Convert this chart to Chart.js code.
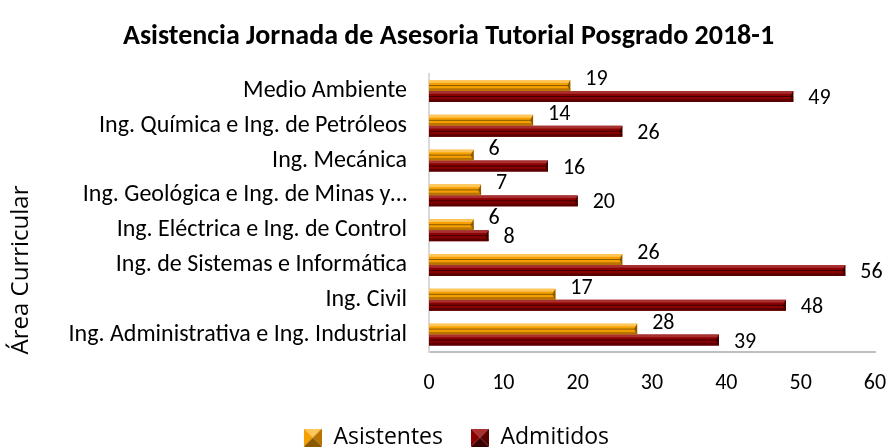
<!DOCTYPE html>
<html>
<head>
<meta charset="utf-8">
<script src="https://cdn.jsdelivr.net/npm/chart.js@4.4.0/dist/chart.umd.min.js"></script>
<style>
  html, body { margin: 0; padding: 0; background: #fff; }
  #wrap { width: 891px; height: 448px; }
</style>
</head>
<body>
<div id="wrap"><canvas id="grafico" width="891" height="448"></canvas></div>
<script>
// datos
const areas = [
    "Medio Ambiente",
    "Ing. Química e Ing. de Petróleos",
    "Ing. Mecánica",
    "Ing. Geológica e Ing. de Minas y…",
    "Ing. Eléctrica e Ing. de Control",
    "Ing. de Sistemas e Informática",
    "Ing. Civil",
    "Ing. Administrativa e Ing. Industrial"
];
const asistentes = [19, 14, 6, 7, 6, 26, 17, 28];
const admitidos = [49, 26, 16, 20, 8, 56, 48, 39];
const xTicks = [0, 10, 20, 30, 40, 50, 60];

const fuente = "Carlito, Lato, 'Open Sans', sans-serif";
const fuente2 = "'Open Sans', 'Noto Sans', sans-serif";
const naranja = { base: "#F5A000", luz: "#FFC65A", sombra: "#B87400", linea: "#8A5A00" };
const rojo = { base: "#8B0000", luz: "#A83030", sombra: "#5A0000", linea: "#3A0000" };

// cuadrito biselado para la leyenda (con margen transparente a la izquierda)
function iconoLeyenda(c) {
    const s = 18, m = 16;
    const cv = document.createElement("canvas");
    cv.width = s + m; cv.height = s;
    const g = cv.getContext("2d");
    const tri = (pts, col) => {
        g.fillStyle = col;
        g.beginPath();
        g.moveTo(m + pts[0], pts[1]);
        g.lineTo(m + pts[2], pts[3]);
        g.lineTo(m + pts[4], pts[5]);
        g.closePath();
        g.fill();
    };
    tri([0, 0, s, 0, s / 2, s / 2], c.luz);
    tri([0, 0, 0, s, s / 2, s / 2], c.base);
    tri([s, 0, s, s, s / 2, s / 2], c.sombra);
    tri([0, s, s, s, s / 2, s / 2], c.linea);
    return cv;
}

// bisel de las barras + etiquetas de valor + titulo del eje
const biselPlugin = {
    id: "bisel",
    afterDatasetsDraw(chart) {
        const ctx = chart.ctx;
        chart.data.datasets.forEach((ds, i) => {
            const meta = chart.getDatasetMeta(i);
            const c = i == 0 ? naranja : rojo;
            meta.data.forEach((bar, j) => {
                const x0 = bar.base, x1 = bar.x;
                const top = bar.y - bar.height / 2, h = bar.height;
                ctx.save();
                ctx.fillStyle = c.luz;
                ctx.fillRect(x0, top, x1 - x0, h * 0.25);
                ctx.fillStyle = c.sombra;
                ctx.fillRect(x0, top + h * 0.75, x1 - x0, h * 0.25);
                ctx.strokeStyle = c.linea;
                ctx.lineWidth = 1;
                ctx.beginPath();
                ctx.moveTo(x0, top + h * 0.5);
                ctx.lineTo(x1, top + h * 0.5);
                ctx.stroke();
                // punta oscura
                ctx.fillStyle = c.linea;
                ctx.beginPath();
                ctx.moveTo(x1, top);
                ctx.lineTo(x1, top + h);
                ctx.lineTo(x1 - 3, top + h * 0.5);
                ctx.closePath();
                ctx.fill();
                // etiqueta
                ctx.fillStyle = "#000";
                ctx.font = "22px " + fuente;
                ctx.textAlign = "left";
                ctx.textBaseline = "middle";
                const dy = i == 0 ? -6 : 2;
                ctx.fillText(ds.data[j], x1 + 15, bar.y + dy);
                ctx.restore();
            });
        });
        // titulo del eje vertical
        ctx.save();
        ctx.translate(21, 270);
        ctx.rotate(-Math.PI / 2);
        ctx.fillStyle = "#000";
        ctx.font = "24px " + fuente2;
        ctx.textAlign = "center";
        ctx.textBaseline = "middle";
        ctx.fillText("Área Curricular", 0, 0);
        ctx.restore();
    }
};

const iconos = [iconoLeyenda(naranja), iconoLeyenda(rojo)];

new Chart(document.getElementById("grafico"), {
    type: "bar",
    data: {
        labels: areas,
        datasets: [
            {
                label: "Asistentes",
                data: asistentes,
                backgroundColor: naranja.base,
                borderWidth: 0,
                barPercentage: 1,
                categoryPercentage: 0.63
            },
            {
                label: "Admitidos",
                data: admitidos,
                backgroundColor: rojo.base,
                borderWidth: 0,
                barPercentage: 1,
                categoryPercentage: 0.63
            }
        ]
    },
    options: {
        indexAxis: "y",
        responsive: false,
        animation: false,
        layout: { padding: { left: 6, right: 0, top: 0, bottom: -11 } },
        plugins: {
            title: {
                display: true,
                text: "Asistencia Jornada de Asesoria Tutorial Posgrado 2018-1",
                color: "#000",
                font: { family: fuente, size: 28, weight: "bold" },
                padding: { top: 20, bottom: 20 }
            },
            legend: {
                position: "bottom",
                labels: {
                    color: "#000",
                    font: { family: fuente2, size: 23 },
                    boxWidth: 18,
                    boxHeight: 18,
                    padding: 12,
                    usePointStyle: true,
                    pointStyleWidth: 34,
                    generateLabels(chart) {
                        return chart.data.datasets.map((ds, i) => ({
                            text: ds.label,
                            fontColor: "#000",
                            pointStyle: iconos[i],
                            lineWidth: 0,
                            hidden: false,
                            datasetIndex: i
                        }));
                    }
                }
            },
            tooltip: { enabled: false }
        },
        scales: {
            x: {
                min: 0,
                max: 60,
                afterBuildTicks(scale) {
                    scale.ticks = xTicks.map(v => ({ value: v }));
                },
                grid: { display: false, drawTicks: false },
                border: { display: true, color: "#BFBFBF", width: 2 },
                ticks: { color: "#000", font: { family: fuente, size: 22 }, padding: 18 },
                afterFit(scale) {
                    scale.height = 62;
                    scale.paddingRight = 16;
                }
            },
            y: {
                grid: { display: false, drawTicks: false },
                border: { display: true, color: "#D9D9D9", width: 2 },
                ticks: { color: "#000", font: { family: fuente, size: 24 }, padding: 22, autoSkip: false },
                afterFit(scale) { scale.width = 423; }
            }
        }
    },
    plugins: [biselPlugin]
});
</script>
</body>
</html>
